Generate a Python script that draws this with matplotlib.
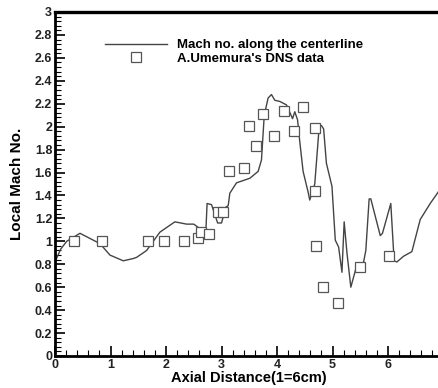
import matplotlib.pyplot as plt
from matplotlib.ticker import MultipleLocator

plt.rcParams['font.family'] = ['Liberation Sans', 'DejaVu Sans']

# centerline Mach number (solid line)
line_x = [0.0, 0.1, 0.21, 0.45, 0.81, 0.99, 1.23, 1.41, 1.47, 1.65, 1.89, 2.16,
          2.37, 2.5, 2.64, 2.72, 2.74, 2.82, 2.93, 3.0, 3.08, 3.12, 3.15, 3.27,
          3.51, 3.66, 3.72, 3.77, 3.84, 3.90, 3.96, 4.05, 4.17, 4.28, 4.32, 4.37,
          4.41, 4.47, 4.56, 4.59, 4.68, 4.76, 4.80, 4.84, 4.89, 4.99, 5.05, 5.11,
          5.17, 5.21, 5.26, 5.33, 5.42, 5.56, 5.60, 5.66, 5.69, 5.86, 5.90, 6.05,
          6.11, 6.16, 6.28, 6.43, 6.58, 6.76, 6.89, 7.0]
line_y = [0.82, 0.93, 1.0, 1.07, 0.98, 0.88, 0.83, 0.85, 0.86, 0.92, 1.08, 1.17,
          1.15, 1.15, 1.10, 1.11, 1.33, 1.32, 1.16, 1.16, 1.30, 1.31, 1.42, 1.51,
          1.55, 1.61, 1.71, 2.10, 2.25, 2.28, 2.23, 2.22, 2.19, 2.07, 2.13, 2.06,
          1.87, 1.61, 1.43, 1.36, 1.50, 2.00, 2.01, 1.98, 1.68, 1.48, 1.01, 0.95,
          0.73, 1.17, 0.90, 0.60, 0.76, 0.82, 0.92, 1.37, 1.37, 1.05, 1.07, 1.33,
          0.83, 0.82, 0.87, 0.91, 1.19, 1.33, 1.42, 1.50]

# DNS data (squares)
dns_x = [0.34, 0.84, 1.67, 1.96, 2.33, 2.58, 2.63, 2.78, 2.93, 3.03, 3.14, 3.41,
         3.50, 3.63, 3.75, 3.94, 4.13, 4.31, 4.46, 4.68, 4.68, 4.70, 4.83, 5.09,
         5.49, 6.01]
dns_y = [1.0, 1.0, 1.0, 1.0, 1.0, 1.03, 1.08, 1.06, 1.26, 1.26, 1.61, 1.64,
         2.01, 1.83, 2.11, 1.92, 2.14, 1.96, 2.17, 1.99, 1.44, 0.96, 0.60, 0.46,
         0.78, 0.87]

x_ticks = [0, 1, 2, 3, 4, 5, 6]
y_ticks = [0, 0.2, 0.4, 0.6, 0.8, 1, 1.2, 1.4, 1.6, 1.8, 2, 2.2, 2.4, 2.6, 2.8, 3]
y_tick_labels = ['0', '0.2', '0.4', '0.6', '0.8', '1', '1.2', '1.4', '1.6',
                 '1.8', '2', '2.2', '2.4', '2.6', '2.8', '3']

fig = plt.figure(figsize=(4.38, 3.88), dpi=100)
ax = fig.add_axes([0.1256, 0.0825, 0.887, 0.8866])

ax.plot(line_x, line_y, color='#444444', linewidth=1.0,
        label='Mach no. along the centerline')
ax.plot(dns_x, dns_y, linestyle='none', marker='s', markersize=6.5,
        markerfacecolor='white', markeredgecolor='#555555', markeredgewidth=0.9,
        label="A.Umemura's DNS data")

ax.set_xlim(0, 7)
ax.set_ylim(0, 3)
ax.set_xticks(x_ticks)
ax.set_xticklabels([str(t) for t in x_ticks])
ax.xaxis.set_minor_locator(MultipleLocator(0.2))
ax.set_yticks(y_ticks)
ax.set_yticklabels(y_tick_labels)
ax.yaxis.set_minor_locator(MultipleLocator(0.04))

ax.tick_params(which='both', direction='in', top=False, right=False, pad=2)
ax.tick_params(which='major', length=7, width=1.2, labelsize=9)
ax.tick_params(which='minor', length=4, width=0.8)
for lab in ax.get_xticklabels() + ax.get_yticklabels():
    lab.set_fontweight('bold')
    lab.set_color('#222222')

ax.spines['top'].set_linewidth(2.4)
ax.spines['left'].set_linewidth(2)
ax.spines['bottom'].set_linewidth(2)
ax.spines['right'].set_visible(False)

ax.set_xlabel('Axial Distance(1=6cm)', fontsize=10.5, fontweight='bold')
ax.xaxis.set_label_coords(0.5, -0.043)
ax.set_ylabel('Local Mach No.', fontsize=11, fontweight='bold')
ax.yaxis.set_label_coords(-0.08, 0.5)

ax.legend(loc='upper left', bbox_to_anchor=(105 / 438, 1 - 39 / 388),
          bbox_transform=fig.transFigure, frameon=False, borderpad=0,
          borderaxespad=0, handlelength=4.7, handletextpad=0.75,
          labelspacing=0.1, prop={'size': 9.5, 'weight': 'bold'})

fig.savefig('out.png', dpi=100)
